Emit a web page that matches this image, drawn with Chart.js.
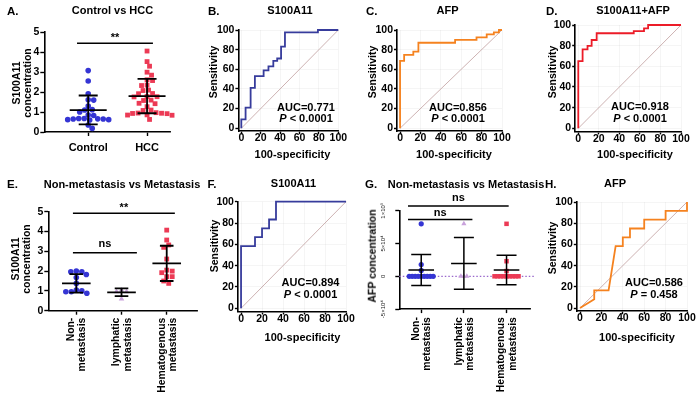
<!DOCTYPE html>
<html>
<head>
<meta charset="utf-8">
<script src="https://cdn.jsdelivr.net/npm/chart.js@4.4.1/dist/chart.umd.min.js"></script>
<style>
html, body { margin: 0; padding: 0; background: #fff; }
#wrap { position: relative; width: 700px; height: 398px; overflow: hidden; font-family: "Liberation Sans", Arial, sans-serif; font-weight: bold; color: #000; }
#wrap canvas { position: absolute; left: 0; top: 0; }
.t { position: absolute; white-space: nowrap; transform: translate(-50%, -50%); font-size: 11px; line-height: 11.5px; text-align: center; }
.l { position: absolute; white-space: nowrap; transform: translate(0, -50%); font-size: 11.5px; line-height: 1; }
.r { position: absolute; white-space: nowrap; transform: translate(-50%, -50%) rotate(-90deg); font-size: 10.5px; line-height: 10.5px; text-align: center; }
</style>
</head>
<body>
<div id="wrap"></div>
<script>
// ---------------- DATA ----------------
// Panel A: Control vs HCC (S100A11 concentration)
const catsA = ['Control', 'HCC'];
const controlA = [3.08, 2.56, 1.92, 1.62, 1.60, 1.30, 1.12, 1.10, 1.00, 0.85, 0.83, 0.68, 0.66, 0.62, 0.65, 0.60, 0.68, 0.65, 0.62, 0.35, 0.18];
const hccA = [4.06, 3.53, 3.30, 3.00, 2.85, 2.62, 2.58, 2.35, 2.33, 2.10, 2.08, 1.93, 1.92, 1.78, 1.76, 1.77, 1.60, 1.58, 1.44, 1.42, 1.27, 1.10, 1.08, 0.95, 0.94, 0.93, 0.92, 0.86, 0.85, 0.84, 0.97, 0.63];
const meanA = [1.10, 1.80];
const sdLowA = [0.38, 0.94];
const sdHighA = [1.83, 2.66];
const yTicksA = [0, 1, 2, 3, 4, 5];

// Panel E: Non-metastasis vs Metastasis (S100A11)
const catsE = [['Non-', 'metastasis'], ['lymphatic', 'metastasis'], ['Hematogenous', 'metastasis']];
const nonMetE = [2.00, 1.97, 1.97, 1.83, 1.68, 1.38, 1.04, 1.00, 0.96, 0.96, 0.88];
const lymphE = [1.04, 0.96, 0.96, 0.59];
const hemaE = [4.07, 3.57, 3.32, 3.20, 2.61, 2.05, 2.00, 1.92, 1.72, 1.72, 1.50, 1.38];
const meanE = [1.38, 0.93, 2.39];
const sdLowE = [0.91, 0.74, 1.50];
const sdHighE = [1.85, 1.13, 3.28];
const yTicksE = [0, 1, 2, 3, 4, 5];

// Panel G: Non-metastasis vs Metastasis (AFP)
const catsG = catsE;
const nonMetG = [80000, 18000, 9000, 0, 0, 0, 0, 0, 0, 0, 0, 0];
const lymphG = [80000, 0, 0, 0];
const hemaG = [80000, 23000, 8000, 0, 0, 0, 0, 0, 0, 0, 0, 0];
const meanG = [9500, 19700, 9500];
const sdLowG = [-14200, -19700, -13000];
const sdHighG = [33300, 59000, 32000];
const yTicksG = [-50000, 0, 50000, 100000];
const yTickLabelsG = ['-5×10⁴', '0', '5×10⁴', '1×10⁵'];

// ROC curves (100-specificity, sensitivity)
const rocTicks = [0, 20, 40, 60, 80, 100];
const diagX = [0, 100];
const diagY = [0, 100];
const bX = [0, 0, 4.4, 4.4, 9.6, 9.6, 14, 14, 23, 23, 28, 28, 33, 33, 37, 37, 41, 41, 45, 45, 79, 79, 100];
const bY = [0, 9, 9, 21, 21, 41, 41, 53, 53, 59, 59, 63, 63, 68.5, 68.5, 71, 71, 83, 83, 97.6, 97.6, 100, 100];
const cX = [0, 0, 4, 4, 13, 13, 18, 18, 54, 54, 75, 75, 85, 85, 92, 92, 97, 97, 100];
const cY = [0, 68.5, 68.5, 74.6, 74.6, 78, 78, 87, 87, 90, 90, 92.5, 92.5, 95.6, 95.6, 97.6, 97.6, 100, 100];
const dX = [0, 0, 4.2, 4.2, 9, 9, 13, 13, 17.9, 17.9, 54, 54, 64, 64, 68, 68, 100];
const dY = [0, 65, 65, 76.5, 76.5, 79.7, 79.7, 85.5, 85.5, 92, 92, 94, 94, 96.8, 96.8, 100, 100];
const fX = [0, 0, 13.3, 13.3, 20, 20, 26.7, 26.7, 33.3, 33.3, 100];
const fY = [0, 58.3, 58.3, 66.7, 66.7, 75, 75, 83.3, 83.3, 100, 100];
const hX = [0, 13.3, 13.3, 26.7, 33.3, 40, 40, 46.7, 46.7, 60, 60, 80, 80, 100, 100];
const hY = [0, 8.3, 16.7, 16.7, 58.3, 58.3, 66.7, 66.7, 75, 75, 83.3, 83.3, 91.7, 91.7, 100];
const aucTexts = ['AUC=0.771', 'AUC=0.856', 'AUC=0.918', 'AUC=0.894', 'AUC=0.586'];
const pTexts = ['&lt; 0.0001', '&lt; 0.0001', '&lt; 0.0001', '&lt; 0.0001', '= 0.458'];

// ---------------- STYLE ----------------
const FONT = '"Liberation Sans", Arial, sans-serif';
const BLUE = '#3535d4', RED = '#ec3a55', LAV = '#c9a2dc';
const NAVY = '#373c9c', ORANGE = '#f5821f', CRED = '#ec1c28', DIAG = '#c7a9a9';
const wrap = document.getElementById('wrap');

function axis(g, o, horiz) {
  const a = {
    type: 'linear', min: horiz ? g.xMin : g.yMin, max: horiz ? g.xMax : g.yMax, bounds: 'data',
    afterFit: s => {
      if (horiz) s.height = g.xH; else s.width = g.yW;
      s.paddingLeft = 0; s.paddingRight = 0; s.paddingTop = 0; s.paddingBottom = 0;
    },
    afterBuildTicks: s => { s.ticks = o.ticks.map(v => ({ value: v })); },
    border: { display: true, color: '#000', width: 1.6 },
    grid: { display: true, drawOnChartArea: !!o.grid, color: o.grid || 'rgba(0,0,0,0)', lineWidth: 0.8,
            drawTicks: true, tickLength: o.tl, tickColor: '#000', tickWidth: 1.4 },
    ticks: { display: o.show !== false, autoSkip: false, maxRotation: o.rot || 0, minRotation: o.rot || 0,
             padding: o.pad, labelOffset: o.lo || 0, color: '#000',
             font: { family: FONT, size: o.fs || 10.5, weight: 'bold', lineHeight: o.lh || 1.0 } }
  };
  if (o.cb) a.ticks.callback = o.cb;
  return a;
}

function makeChart(g, datasets, xo, yo, plugins) {
  const c = document.createElement('canvas');
  c.width = 700; c.height = 398;
  wrap.appendChild(c);
  return new Chart(c, {
    type: 'scatter',
    data: { datasets },
    options: {
      responsive: false, animation: false, devicePixelRatio: 1, events: [],
      layout: { padding: { left: g.L - g.yW, top: g.T, right: 700 - g.R, bottom: 398 - g.B - g.xH } },
      plugins: { legend: { display: false }, tooltip: { enabled: false }, title: { display: false } },
      scales: { x: axis(g, xo, true), y: axis(g, yo, false) }
    },
    plugins: plugins || []
  });
}

// beeswarm layout computed from the values (pixel spacing d)
function swarm(vals, cat, px, py, d) {
  const idx = vals.map((v, i) => i).sort((a, b) => vals[b] - vals[a]);
  const placed = [], out = [];
  idx.forEach(i => {
    const yy = vals[i] * py;
    let off = 0;
    for (let n = 0; n < 600; n++) {
      const c = n === 0 ? 0 : (n % 2 ? 1 : -1) * Math.ceil(n / 2) * 0.5;
      if (placed.every(p => Math.hypot(p[0] - c, p[1] - yy) >= d)) { off = c; break; }
    }
    placed.push([off, yy]);
    out[i] = { x: cat + off / px, y: vals[i] };
  });
  return out;
}

function grp(g, vals, cat, style, color, r, d) {
  const px = (g.R - g.L) / (g.xMax - g.xMin), py = (g.B - g.T) / (g.yMax - g.yMin);
  return { data: swarm(vals, cat, px, py, d), pointStyle: style, pointRadius: r, backgroundColor: color,
           borderColor: color, borderWidth: 0, clip: false };
}

function errPlugin(eb, sigs) {
  return {
    id: 'errbars',
    afterDatasetsDraw(chart) {
      const { ctx, scales: { x, y } } = chart;
      ctx.save();
      ctx.strokeStyle = '#000'; ctx.lineWidth = eb.lw; ctx.lineCap = 'butt';
      eb.means.forEach((m, i) => {
        const cx = x.getPixelForValue(i + 1);
        const ym = y.getPixelForValue(m), yl = y.getPixelForValue(eb.lows[i]), yh = y.getPixelForValue(eb.highs[i]);
        ctx.beginPath();
        ctx.moveTo(cx - eb.meanHalf, ym); ctx.lineTo(cx + eb.meanHalf, ym);
        ctx.moveTo(cx, yl); ctx.lineTo(cx, yh);
        ctx.moveTo(cx - eb.capHalf, yl); ctx.lineTo(cx + eb.capHalf, yl);
        ctx.moveTo(cx - eb.capHalf, yh); ctx.lineTo(cx + eb.capHalf, yh);
        ctx.stroke();
      });
      ctx.font = 'bold 11px ' + FONT;
      ctx.textAlign = 'center'; ctx.textBaseline = 'alphabetic'; ctx.fillStyle = '#000';
      sigs.forEach(s => {
        const x1 = x.getPixelForValue(s.from), x2 = x.getPixelForValue(s.to), yy = y.getPixelForValue(s.y);
        ctx.beginPath(); ctx.lineWidth = 1.5;
        ctx.moveTo(x1, yy); ctx.lineTo(x2, yy); ctx.stroke();
        ctx.fillText(s.text, (x1 + x2) / 2, yy - s.gap);
      });
      ctx.restore();
    }
  };
}

// ---------------- PANEL A ----------------
const gA = { L: 44.3, R: 170, T: 32.3, B: 132, xMin: 0.254, xMax: 2.39, yMin: 0, yMax: 5, yW: 30, xH: 25 };
makeChart(gA,
  [grp(gA, controlA, 1, 'circle', BLUE, 2.8, 5.2), grp(gA, hccA, 2, 'rect', RED, 3.4, 5.2)],
  { ticks: [1, 2], tl: 4, pad: 5, fs: 11, lh: 1.2, cb: v => catsA[Math.round(v) - 1] },
  { ticks: yTicksA, tl: 4, pad: 1 },
  [errPlugin({ means: meanA, lows: sdLowA, highs: sdHighA, meanHalf: 18.5, capHalf: 9.5, lw: 1.8 },
             [{ from: 0.81, to: 2.1, y: 4.45, text: '**', gap: 2.3 }])]);

// ---------------- PANEL E ----------------
const gE = { L: 48.3, R: 197, T: 211.7, B: 310.7, xMin: 0.38, xMax: 3.67, yMin: 0, yMax: 5, yW: 30, xH: 87 };
makeChart(gE,
  [grp(gE, nonMetE, 1, 'circle', BLUE, 2.8, 5.2), grp(gE, lymphE, 2, 'triangle', LAV, 3.2, 5.2), grp(gE, hemaE, 3, 'rect', RED, 3.4, 5.2)],
  { ticks: [1, 2, 3], tl: 4, pad: 3, fs: 10.4, lh: 1.07, rot: 90, lo: -5, cb: v => catsE[Math.round(v) - 1] },
  { ticks: yTicksE, tl: 4, pad: 1 },
  [errPlugin({ means: meanE, lows: sdLowE, highs: sdHighE, meanHalf: 14.3, capHalf: 6.8, lw: 1.8 },
             [{ from: 0.925, to: 3.18, y: 4.92, text: '**', gap: 2.3 },
              { from: 0.925, to: 2.34, y: 2.93, text: 'ns', gap: 5.5 }])]);

// ---------------- PANEL G ----------------
const gG = { L: 399.3, R: 530, T: 210.7, B: 309.1, xMin: 0.486, xMax: 3.55, yMin: -50000, yMax: 100000, yW: 30, xH: 88 };
const zeroLine = {
  id: 'zeroLine',
  beforeDatasetsDraw(chart) {
    const { ctx, chartArea, scales: { y } } = chart;
    const yy = y.getPixelForValue(0);
    ctx.save();
    ctx.strokeStyle = '#9a68cc'; ctx.lineWidth = 1.2; ctx.setLineDash([1.5, 2]);
    ctx.beginPath(); ctx.moveTo(chartArea.left, yy); ctx.lineTo(chartArea.right + 4, yy); ctx.stroke();
    ctx.restore();
  },
  afterDraw(chart) {
    const { ctx, chartArea, scales: { y } } = chart;
    ctx.save();
    ctx.font = '6px ' + FONT; ctx.fillStyle = '#222'; ctx.textAlign = 'center'; ctx.textBaseline = 'middle';
    yTicksG.forEach((v, i) => {
      ctx.save();
      ctx.translate(chartArea.left - 16, y.getPixelForValue(v));
      ctx.rotate(-Math.PI / 2);
      ctx.fillText(yTickLabelsG[i], 0, 0);
      ctx.restore();
    });
    ctx.restore();
  }
};
makeChart(gG,
  [grp(gG, nonMetG, 1, 'circle', BLUE, 2.6, 3), grp(gG, lymphG, 2, 'triangle', LAV, 3, 3), grp(gG, hemaG, 3, 'rect', RED, 3.2, 3)],
  { ticks: [1, 2, 3], tl: 4, pad: 4, fs: 10.4, lh: 1.07, rot: 90, lo: -5, cb: v => catsG[Math.round(v) - 1] },
  { ticks: yTicksG, tl: 4, pad: 1, show: false },
  [zeroLine, errPlugin({ means: meanG, lows: sdLowG, highs: sdHighG, meanHalf: 12.8, capHalf: 10, lw: 1.5 },
             [{ from: 0.69, to: 3.05, y: 107000, text: 'ns', gap: 5.5 },
              { from: 0.69, to: 2.2, y: 86400, text: 'ns', gap: 3.5 }])]);

// ---------------- ROC PANELS ----------------
function rocSets(xs, ys, color) {
  return [
    { data: xs.map((x, i) => ({ x, y: ys[i] })), showLine: true, borderColor: color, borderWidth: 1.8,
      pointRadius: 0, tension: 0, clip: false, fill: false },
    { data: diagX.map((x, i) => ({ x, y: diagY[i] })), showLine: true, borderColor: DIAG, borderWidth: 0.9,
      pointRadius: 0, clip: false, fill: false }
  ];
}
const GRID = 'rgba(0,0,0,0.05)';
function roc(g, xs, ys, color) {
  makeChart(g, rocSets(xs, ys, color),
    { ticks: rocTicks, tl: 3, pad: -1, grid: GRID },
    { ticks: rocTicks, tl: 3, pad: 1, grid: GRID });
}
const base = { xMin: -3, xMax: 100, yMin: -3, yMax: 100, yW: 30, xH: 25 };
roc(Object.assign({ L: 238.4, R: 338.3, T: 30, B: 131.2 }, base), bX, bY, NAVY);
roc(Object.assign({ L: 397, R: 502, T: 30, B: 131.2 }, base), cX, cY, ORANGE);
roc(Object.assign({ L: 575.2, R: 681, T: 25, B: 131.4 }, base), dX, dY, CRED);
roc(Object.assign({ L: 237.9, R: 346, T: 201.7, B: 311.5 }, base), fX, fY, NAVY);
roc(Object.assign({ L: 576.8, R: 687, T: 202, B: 311.2 }, base), hX, hY, ORANGE);

// ---------------- TEXT ----------------
function txt(cls, x, y, html) {
  const d = document.createElement('div');
  d.className = cls; d.style.left = x + 'px'; d.style.top = y + 'px'; d.innerHTML = html;
  wrap.appendChild(d);
}
// panel letters
[['A.', 7, 11.5], ['B.', 208, 11.5], ['C.', 366, 11.5], ['D.', 546, 11.5],
 ['E.', 7, 185], ['F.', 207.5, 185], ['G.', 365, 185], ['H.', 545, 185]].forEach(a => txt('l', a[1], a[2], a[0]));
// panel titles
[['Control vs HCC', 112.5, 11], ['S100A11', 290, 11], ['AFP', 447.5, 11], ['S100A11+AFP', 633, 11],
 ['Non-metastasis vs Metastasis', 122, 185], ['S100A11', 293.5, 184], ['Non-metastasis vs Metastasis', 466, 185],
 ['AFP', 615, 184]].forEach(a => txt('t', a[1], a[2], a[0]));
// y axis titles
txt('r', 20.5, 83, 'S100A11<br>concentration');
txt('r', 19.5, 258.5, 'S100A11<br>concentration');
txt('r', 371.7, 256, 'AFP concentration');
[[212.5, 71.7], [372, 71.7], [551.5, 71.7], [213.5, 246], [552, 247.7]].forEach(p => txt('r', p[0], p[1], 'Sensitivity'));
// x axis titles
[[292.5, 155], [454, 155], [635, 155], [302.5, 337.7], [637, 337.7]].forEach(p => txt('t', p[0], p[1], '100-specificity'));
// AUC annotations
[[306, 112.7], [458, 112.7], [640, 112], [310.5, 288.3], [654, 288]].forEach((p, i) =>
  txt('t', p[0], p[1], aucTexts[i] + '<br><i>P</i> ' + pTexts[i]));
</script>
</body>
</html>
